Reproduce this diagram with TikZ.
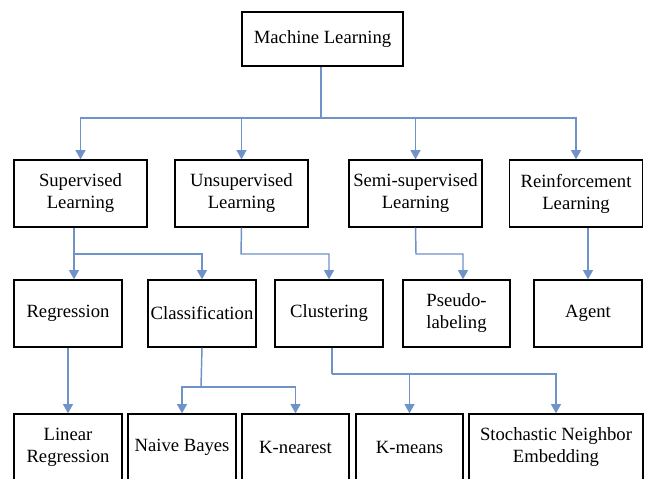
\documentclass[tikz,border=0pt]{standalone}
\usepackage{fontspec}
\setmainfont{Liberation Serif}
\usepackage{tikz}
\usetikzlibrary{positioning, arrows.meta, calc}
\definecolor{linkBlue}{HTML}{6F92C9}

\begin{document}
\begin{tikzpicture}[x=0.75pt, y=-0.75pt,
  box/.style={draw, line width=1pt, align=center, inner sep=0pt, minimum height=50.25pt, font=\fontsize{14}{16.5}\selectfont},
  conn/.style={draw=linkBlue, line width=1.1pt},
  arr/.style={conn, -{Triangle[width=7.5pt, length=7pt]}}]
\useasboundingbox (0,0) rectangle (648,478);
% top
\node[box, minimum width=120.75pt, minimum height=40.5pt] (ml) at (322.5,39) {Machine Learning};
% second row
\node[box, minimum width=99.75pt] (sup) at (80.5,193.5) {Supervised\\Learning};
\node[box, minimum width=99.75pt] (uns) at (241.5,193.5) {Unsupervised\\Learning};
\node[box, minimum width=99.75pt] (semi) at (415.5,193.5) {Semi-supervised\\Learning};
\node[box, minimum width=99.75pt] (rein) at (576,193.5) {Reinforcement\\Learning};
% third row
\node[box, minimum width=81pt] (reg) at (68,313.5) {Regression};
\node[box, minimum width=81pt] (cls) at (202,313.5) {Classification};
\node[box, minimum width=81pt] (clu) at (329,313.5) {Clustering};
\node[box, minimum width=80.25pt] (pse) at (456.5,313.5) {Pseudo-\\labeling};
\node[box, minimum width=81pt] (agent) at (588,313.5) {Agent};
% bottom row
\node[box, minimum width=81pt] (linreg) at (68,447.5) {Linear\\Regression};
\node[box, minimum width=81pt] (nb) at (182,447.5) {Naive Bayes};
\node[box, minimum width=80.25pt] (knn) at (295.5,447.5) {K-nearest};
\node[box, minimum width=80.25pt] (km) at (409.5,447.5) {K-means};
\node[box, minimum width=130.5pt] (sne) at (556,447.5) {Stochastic Neighbor\\Embedding};
% bus points
\coordinate (mlbus) at (321,118);
\coordinate (supbus) at (74,254);
\coordinate (unsbus) at (241,254);
\coordinate (semibus) at (416,254);
\coordinate (psein) at (463,0);
\coordinate (clsbus) at (201,387);
\coordinate (clubus) at (332,374);
% connectors
\draw[conn, line width=1.8pt] (mlbus |- ml.south) -- (mlbus);
\foreach \n in {sup, uns, semi, rein}
  \draw[arr] (mlbus) -| (\n.north);
\draw[conn] (supbus |- sup.south) -- (supbus);
\draw[arr] (supbus) -- (supbus |- reg.north);
\draw[arr] (supbus) -| (cls.north);
\draw[arr] (uns.south) -- (unsbus) -| (clu.north);
\draw[arr] (semi.south) -- (semibus) -| (psein |- pse.north);
\draw[arr] (agent.north |- rein.south) -- (agent.north);
\draw[arr] (reg.south) -- (linreg.north);
\draw[conn] (cls.south) -- (clsbus);
\draw[arr] (clsbus) -| (nb.north);
\draw[arr] (clsbus) -| (knn.north);
\draw[conn] (clubus |- clu.south) -- (clubus);
\draw[arr] (clubus) -| (km.north);
\draw[arr] (clubus) -| (sne.north);
\end{tikzpicture}
\end{document}
